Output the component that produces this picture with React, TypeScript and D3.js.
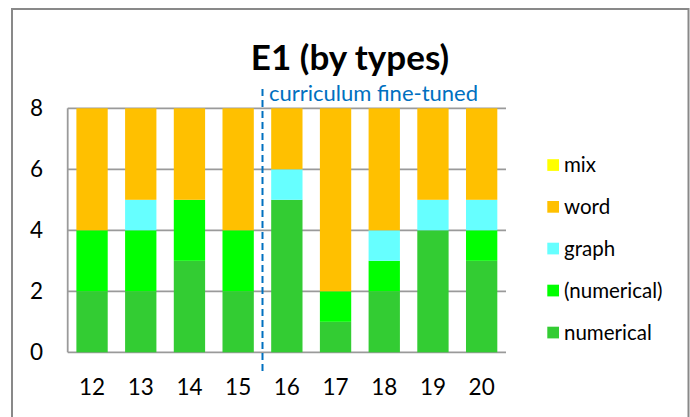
import React from 'react';
import * as d3 from 'd3';

const categories = ['12', '13', '14', '15', '16', '17', '18', '19', '20'];
const numerical = [2, 2, 3, 2, 5, 1, 2, 4, 3];
const numericalParen = [2, 2, 2, 2, 0, 1, 1, 0, 1];
const graph = [0, 1, 0, 0, 1, 0, 1, 1, 1];
const word = [4, 3, 3, 4, 2, 6, 4, 3, 3];
const mix = [0, 0, 0, 0, 0, 0, 0, 0, 0];
const seriesNames = ['numerical', '(numerical)', 'graph', 'word', 'mix'];
const seriesColors = ['#33cc33', '#00ff00', '#66ffff', '#ffc000', '#ffff00'];
const yTicks = [0, 2, 4, 6, 8];
const title = 'E1 (by types)';
const annotation = 'curriculum fine-tuned';
const splitAfter = '15';

const W = 690;
const H = 417;
const FONT = 'Lato, "Open Sans", sans-serif';

export default function App() {
  const left = 67.7, right = 506, top = 108.3, bottom = 352.3;
  const x = d3.scaleBand<string>().domain(categories).range([left, right]).paddingInner(0.357).paddingOuter(0.1785);
  const y = d3.scaleLinear().domain([0, 8]).range([bottom, top]);

  const table = categories.map((c, i) => ({
    cat: c,
    numerical: numerical[i],
    '(numerical)': numericalParen[i],
    graph: graph[i],
    word: word[i],
    mix: mix[i],
  }));
  const stacked = d3.stack<any>().keys(seriesNames)(table);

  const splitIdx = categories.indexOf(splitAfter);
  const splitX = (x(categories[splitIdx])! + x.bandwidth() + x(categories[splitIdx + 1])!) / 2;

  const legendX = 547.3;
  const legendYs = [165, 206.8, 248.5, 290.5, 332.5];
  const legendOrder = ['mix', 'word', 'graph', '(numerical)', 'numerical'];

  return (
    <svg width={W} height={H} style={{ position: 'absolute', left: 0, top: 0, background: '#fff' }} fontFamily={FONT}>
      <rect x={0} y={0} width={W} height={H} fill="#fff" />
      <rect x={12} y={9} width={676.5} height={430} fill="#fff" stroke="#898989" strokeWidth={2} />
      <text x={350} y={70} textAnchor="middle" fontSize={35} fontWeight="bold" fill="#000">{title}</text>

      {yTicks.map(t => (
        <line key={'g' + t} x1={left} x2={right} y1={y(t)} y2={y(t)} stroke="#9a9a9a" strokeWidth={1.8} />
      ))}
      <line x1={left} x2={left} y1={top} y2={bottom} stroke="#9a9a9a" strokeWidth={1.8} />

      {stacked.map((s, si) => (
        <g key={s.key} fill={seriesColors[si]}>
          {s.map((d, i) => (
            d[1] - d[0] > 0 ? (
              <rect key={i} x={x(categories[i])} width={x.bandwidth()} y={y(d[1])} height={y(d[0]) - y(d[1])} />
            ) : null
          ))}
        </g>
      ))}

      {yTicks.map(t => (
        <text key={'yl' + t} x={43} y={y(t)} dy="0.36em" textAnchor="end" fontSize={22.5} fill="#000">{t}</text>
      ))}
      {categories.map(c => (
        <text key={'xl' + c} x={x(c)! + x.bandwidth() / 2} y={395} textAnchor="middle" fontSize={22.5} fill="#000">{c}</text>
      ))}

      <line x1={splitX} x2={splitX} y1={89} y2={374} stroke="#0070c0" strokeWidth={2} strokeDasharray="7,4" />
      <text x={269} y={101} fontSize={22} fill="#0070c0">{annotation}</text>

      {legendOrder.map((name, i) => (
        <g key={name}>
          <rect x={legendX} y={legendYs[i] - 5.8} width={11.7} height={11.7} fill={seriesColors[seriesNames.indexOf(name)]} />
          <text x={564} y={legendYs[i]} dy="0.35em" fontSize={20.5} fill="#000">{name}</text>
        </g>
      ))}
    </svg>
  );
}
